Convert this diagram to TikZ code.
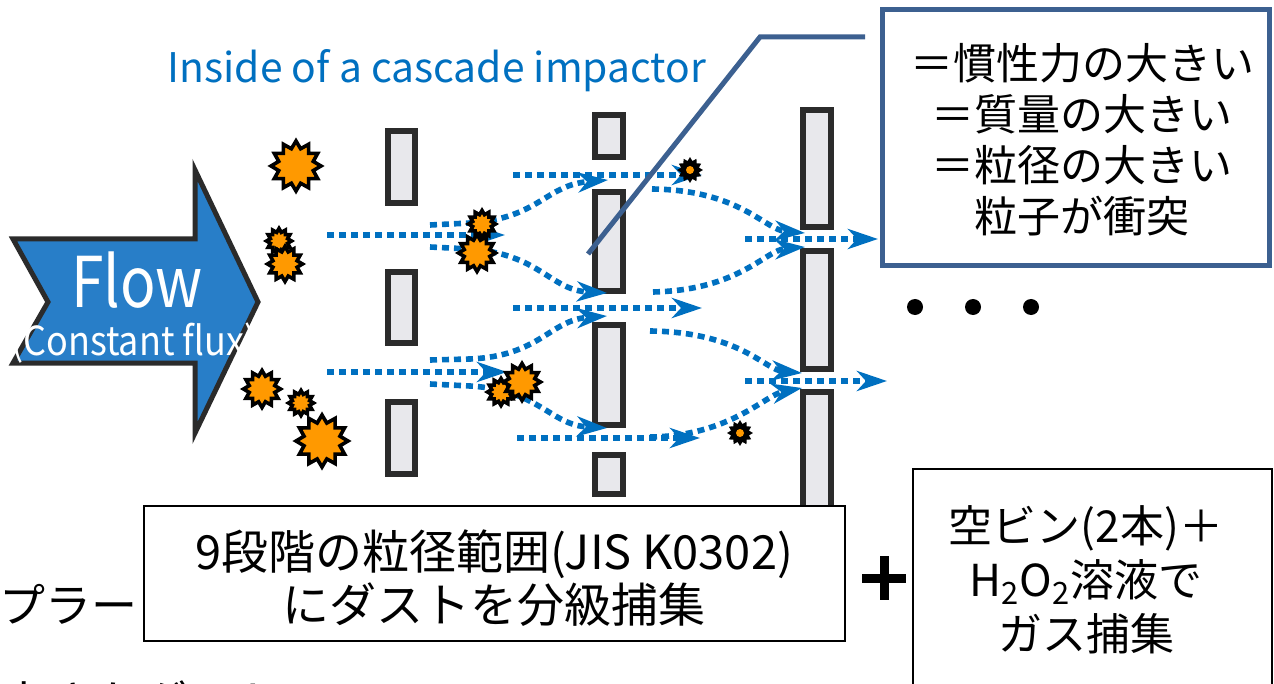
\documentclass[tikz,border=0pt]{standalone}
\usepackage{graphicx}
\usepackage{fontspec}
\setmainfont{Noto Sans CJK JP}
\usetikzlibrary{arrows.meta,shapes.geometric}
\definecolor{flowblue}{RGB}{40,126,200}
\definecolor{pathblue}{RGB}{0,112,192}
\definecolor{calloutblue}{RGB}{60,96,144}
\definecolor{dustorange}{RGB}{255,153,0}
\definecolor{platefill}{RGB}{232,232,236}
\definecolor{edgegray}{RGB}{43,43,43}

\begin{document}
\begin{tikzpicture}[x=0.5pt,y=-0.5pt,
  plate/.style={draw=edgegray, line width=3pt, fill=platefill},
  flowpath/.style={draw=pathblue, line width=2.8pt, dash pattern=on 3.5pt off 2.5pt,
    -{Stealth[length=15pt,width=10pt,inset=4.5pt]}},
  dust/.style={star, star points=12, star point ratio=1.4, fill=dustorange, draw=black,
    line width=1.8pt, inner sep=0pt, minimum size=#1},
  darkdust/.style={star, star points=12, star point ratio=1.4, fill=black, draw=black,
    line width=1pt, inner sep=0pt, minimum size=#1},
  infobox/.style={draw=black, line width=1pt, fill=white, inner sep=0pt},
]
\useasboundingbox (0,0) rectangle (1274,684);
\clip (0,0) rectangle (1274,684);

% title
\node[anchor=base, text=pathblue, font=\fontsize{20.4}{25}\selectfont] (title) at (437,83)
  {Inside of a cascade impactor};

% incoming flow arrow
\draw[draw=edgegray, line width=2.5pt, fill=flowblue, line join=miter]
  (13,239) -- (195,239) -- (195,170) -- (258,302) -- (195,433) -- (195,363)
  -- (13,363) -- (48,302) -- cycle;
\node[anchor=base, text=white, font=\fontsize{35}{40}\selectfont] (flow) at (137,307)
  {\scalebox{0.84}[1]{Flow}};
\node[anchor=base, text=white, font=\fontsize{20}{24}\selectfont] (flux) at (134,355)
  {\scalebox{0.9}[1]{(Constant flux)}};

% impactor plates, stage 1
\draw[plate] (388,131) rectangle (415,203);
\draw[plate] (388,272) rectangle (415,343);
\draw[plate] (388,402) rectangle (415,474);
% stage 2
\draw[plate] (595,115) rectangle (623,157);
\draw[plate] (595,192) rectangle (623,291);
\draw[plate] (595,325) rectangle (623,425);
\draw[plate] (595,455) rectangle (623,494);
% stage 3
\draw[plate] (803,110) rectangle (831,227);
\draw[plate] (803,251) rectangle (831,369);
\draw[plate] (803,392) rectangle (831,560);

% gas stream lines, stage 1 -> stage 2
\draw[flowpath] (327,235) -- (505,235);
\draw[flowpath] (430,225) -- (470,223) .. controls (540,218) and (545,185) .. (608,180);
\draw[flowpath] (430,247) -- (470,249) .. controls (540,254) and (550,290) .. (607,293);
\draw[flowpath] (327,372) -- (507,372);
\draw[flowpath] (430,360) -- (470,359) .. controls (540,356) and (550,320) .. (607,316);
\draw[flowpath] (430,384) -- (470,386) .. controls (540,390) and (550,425) .. (607,428);
% stage 2 -> stage 3
\draw[flowpath] (513,175) -- (702,175);
\draw[flowpath] (513,308) -- (702,308);
\draw[flowpath] (517,438) -- (700,438);
\draw[flowpath] (652,189) .. controls (740,190) and (765,230) .. (805,233);
\draw[flowpath] (653,292) .. controls (740,290) and (765,250) .. (805,247);
\draw[flowpath] (650,331) .. controls (740,332) and (765,370) .. (802,373);
\draw[flowpath] (650,437) .. controls (730,436) and (765,395) .. (802,388);
% through stage 3
\draw[flowpath] (745,239) -- (878,239);
\draw[flowpath] (745,381) -- (887,381);

% dust particles
\node[dust=25pt] (p1) at (296,166) {};
\node[dust=12.5pt] (p2) at (279,241) {};
\node[dust=17.5pt] (p3) at (285,264) {};
\node[dust=18.5pt] (p4) at (262,389) {};
\node[dust=12.5pt] (p5) at (301,403) {};
\node[dust=26pt] (p6) at (322,441) {};
\node[dust=13.5pt] (p7) at (482,224) {};
\node[dust=18.5pt] (p8) at (477,253) {};
\node[dust=13.5pt] (p10) at (501,392) {};
\node[dust=18.5pt] (p9) at (522,382) {};
\node[darkdust=11pt] (p11) at (690,170) {};
\node[darkdust=11pt] (p12) at (740,433) {};
\fill[dustorange] (p11.center) circle[radius=2pt];
\fill[dustorange] (p12.center) circle[radius=2pt];

% callout
\node[draw=calloutblue, line width=2.5pt, fill=white, minimum width=193.5pt,
  minimum height=128pt, inner sep=0pt] (callout) at (1076,137.5) {};
\node[align=center, font=\fontsize{21.5}{25.5}\selectfont] (callouttext) at (1082,140)
  {＝慣性力の大きい\\＝質量の大きい\\＝粒径の大きい\\粒子が衝突};
\coordinate (ptr) at (588,254);
\coordinate (bend) at (760,37);
\coordinate (ptrend) at (865,37);
\draw[calloutblue, line width=2.5pt] (ptr) -- (bend) -- (ptrend);

% continuation dots
\fill (915,307) circle[radius=4pt];
\fill (973,307) circle[radius=4pt];
\fill (1031,307) circle[radius=4pt];

% bottom captions
\node[infobox, minimum width=350.5pt, minimum height=67.5pt] (stagebox) at (494,573) {};
\node[align=center, font=\fontsize{23.5}{26.5}\selectfont] (stagetext) at (494,578)
  {9段階の粒径範囲(JIS K0302)\\にダストを分級捕集};
\node[anchor=east, font=\fontsize{23}{26.5}\selectfont, inner sep=0pt] (sampler) at (138,604) {プラー};
\node[anchor=west, font=\fontsize{23.5}{26.5}\selectfont, inner sep=0pt] (nextline) at (0,703) {小さなダスト};

\draw[line width=4.5pt] (862,578) -- (906,578);
\draw[line width=4.5pt] (884,556) -- (884,600);

\node[infobox, minimum width=179.5pt, minimum height=125.5pt] (gasbox) at (1092,594.5) {};
\node[align=center, font=\fontsize{22}{27}\selectfont] (gastext) at (1086,580)
  {空ビン(2本)＋\\H\textsubscript{2}O\textsubscript{2}溶液で\\ガス捕集};
\end{tikzpicture}
\end{document}
